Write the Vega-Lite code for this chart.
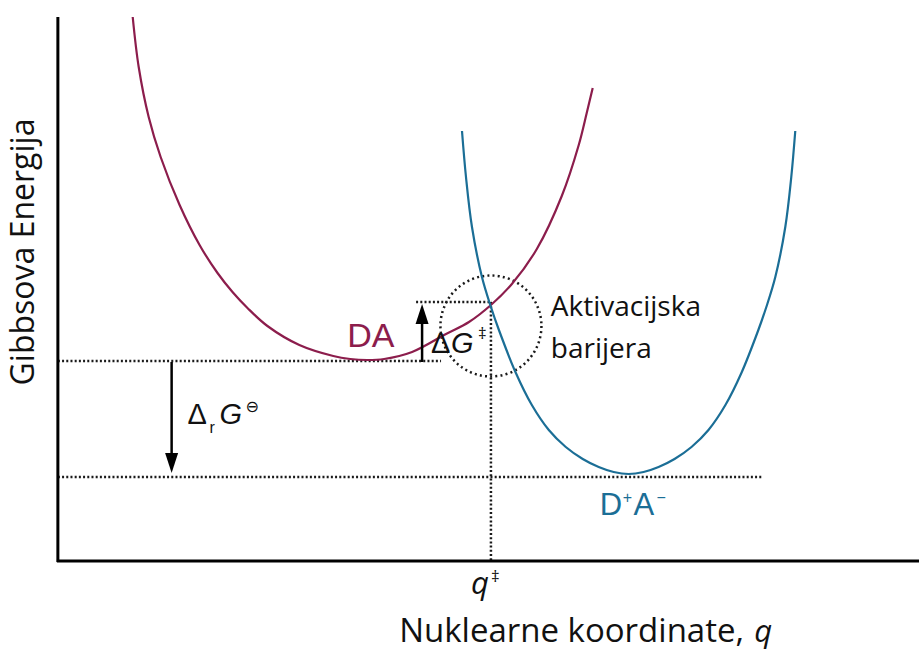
{
  "$schema": "https://vega.github.io/schema/vega-lite/v6.json",
  "width": 921,
  "height": 652,
  "padding": 0,
  "autosize": {"type": "fit", "contains": "padding"},
  "background": "white",
  "config": {"view": {"stroke": null}},
  "datasets": {
    "axes": [
      {"x": 58, "y": 17, "x2": 58, "y2": 562},
      {"x": 57, "y": 561, "x2": 921, "y2": 561}
    ],
    "dotted": [
      {"x": 58, "y": 361, "x2": 442, "y2": 361},
      {"x": 58, "y": 477, "x2": 765, "y2": 477},
      {"x": 417, "y": 302, "x2": 493, "y2": 302},
      {"x": 492, "y": 302, "x2": 492, "y2": 561}
    ],
    "circle": [{"x": 492, "y": 326}],
    "shafts": [
      {"x": 423, "y": 362, "x2": 423, "y2": 318},
      {"x": 172, "y": 362, "x2": 172, "y2": 458}
    ],
    "heads": [
      {"x": 423, "y": 314, "dir": "up"},
      {"x": 172, "y": 463, "dir": "down"}
    ],
    "da": [
      {"x": 133, "y": 17}, {"x": 139, "y": 67}, {"x": 149, "y": 117}, {"x": 161, "y": 157},
      {"x": 180, "y": 205}, {"x": 200, "y": 245}, {"x": 218, "y": 273}, {"x": 233, "y": 292},
      {"x": 248, "y": 308}, {"x": 268, "y": 326}, {"x": 300, "y": 345}, {"x": 334, "y": 356},
      {"x": 351, "y": 359}, {"x": 368, "y": 360}, {"x": 385, "y": 359}, {"x": 413, "y": 352},
      {"x": 447, "y": 334}, {"x": 470, "y": 322}, {"x": 492, "y": 305}, {"x": 513, "y": 284},
      {"x": 538, "y": 249}, {"x": 563, "y": 196}, {"x": 580, "y": 145}, {"x": 588, "y": 113},
      {"x": 594, "y": 88}
    ],
    "dpa": [
      {"x": 463, "y": 131}, {"x": 467, "y": 177}, {"x": 473, "y": 227}, {"x": 483, "y": 277},
      {"x": 492, "y": 307}, {"x": 500, "y": 330}, {"x": 517, "y": 373}, {"x": 533, "y": 405},
      {"x": 550, "y": 430}, {"x": 567, "y": 447}, {"x": 584, "y": 459}, {"x": 600, "y": 467},
      {"x": 615, "y": 472}, {"x": 630, "y": 474}, {"x": 645, "y": 472}, {"x": 660, "y": 467},
      {"x": 676, "y": 459}, {"x": 693, "y": 447}, {"x": 710, "y": 430}, {"x": 727, "y": 405},
      {"x": 743, "y": 373}, {"x": 760, "y": 330}, {"x": 768, "y": 307}, {"x": 777, "y": 277},
      {"x": 787, "y": 227}, {"x": 793, "y": 177}, {"x": 797, "y": 131}
    ]
  },
  "encoding": {
    "x": {"field": "x", "type": "quantitative", "scale": {"domain": [0, 921], "nice": false, "zero": false}, "axis": null},
    "y": {"field": "y", "type": "quantitative", "scale": {"domain": [652, 0], "nice": false, "zero": false}, "axis": null}
  },
  "layer": [
    {
      "data": {"name": "dotted"},
      "mark": {"type": "rule", "color": "#1a1a1a", "strokeWidth": 2.5, "strokeDash": [2, 2.2]},
      "encoding": {"x2": {"field": "x2"}, "y2": {"field": "y2"}}
    },
    {
      "data": {"name": "circle"},
      "mark": {"type": "point", "shape": "circle", "filled": false, "size": 10201, "color": "#1a1a1a", "strokeWidth": 2.5, "strokeDash": [2, 3.2], "opacity": 1}
    },
    {
      "data": {"name": "axes"},
      "mark": {"type": "rule", "color": "#000000", "strokeWidth": 3},
      "encoding": {"x2": {"field": "x2"}, "y2": {"field": "y2"}}
    },
    {
      "data": {"name": "da"},
      "mark": {"type": "line", "color": "#8c1d4c", "strokeWidth": 2.2, "interpolate": "catmull-rom"},
      "encoding": {"order": {"field": "x", "type": "quantitative"}}
    },
    {
      "data": {"name": "dpa"},
      "mark": {"type": "line", "color": "#1b6e96", "strokeWidth": 2.2, "interpolate": "catmull-rom"},
      "encoding": {"order": {"field": "x", "type": "quantitative"}}
    },
    {
      "data": {"name": "shafts"},
      "mark": {"type": "rule", "color": "#000000", "strokeWidth": 2.5},
      "encoding": {"x2": {"field": "x2"}, "y2": {"field": "y2"}}
    },
    {
      "data": {"name": "heads"},
      "mark": {"type": "point", "filled": true, "color": "#000000", "size": 400, "opacity": 1, "strokeWidth": 0},
      "encoding": {
        "shape": {"field": "dir", "type": "nominal", "legend": null,
          "scale": {"domain": ["up", "down"], "range": ["M0,-1L0.65,1L-0.65,1Z", "M0,1L0.65,-1L-0.65,-1Z"]}}
      }
    },
    {
      "data": {"values": [{"x": 24, "y": 252, "t": "Gibbsova Energija"}]},
      "mark": {"type": "text", "font": "Open Sans", "fontSize": 32, "angle": 270, "align": "center", "baseline": "middle", "color": "#111111"},
      "encoding": {"text": {"field": "t"}}
    },
    {
      "data": {"values": [
        {"x": 400, "y": 642, "t": "Nuklearne koordinate,"}
      ]},
      "mark": {"type": "text", "font": "Open Sans", "fontSize": 33, "align": "left", "baseline": "alphabetic", "color": "#111111"},
      "encoding": {"text": {"field": "t"}}
    },
    {
      "data": {"values": [
        {"x": 552, "y": 316, "t": "Aktivacijska"},
        {"x": 552, "y": 358, "t": "barijera"}
      ]},
      "mark": {"type": "text", "font": "Open Sans", "fontSize": 28, "align": "left", "baseline": "alphabetic", "color": "#111111"},
      "encoding": {"text": {"field": "t"}}
    },
    {
      "data": {"values": [
        {"x": 756, "y": 642, "t": "q"},
        {"x": 472, "y": 594, "t": "q"}
      ]},
      "mark": {"type": "text", "font": "Open Sans", "fontSize": 31, "fontStyle": "italic", "align": "left", "baseline": "alphabetic", "color": "#111111"},
      "encoding": {"text": {"field": "t"}}
    },
    {
      "data": {"values": [
        {"x": 492, "y": 582, "t": "‡"},
        {"x": 479, "y": 339, "t": "‡"}
      ]},
      "mark": {"type": "text", "font": "Open Sans", "fontSize": 17, "align": "left", "baseline": "alphabetic", "color": "#111111"},
      "encoding": {"text": {"field": "t"}}
    },
    {
      "data": {"values": [{"x": 348, "y": 347, "t": "DA"}]},
      "mark": {"type": "text", "font": "Liberation Sans", "fontSize": 34, "align": "left", "baseline": "alphabetic", "color": "#8c1d4c"},
      "encoding": {"text": {"field": "t"}}
    },
    {
      "data": {"values": [
        {"x": 601, "y": 515, "t": "D"},
        {"x": 635, "y": 515, "t": "A"}
      ]},
      "mark": {"type": "text", "font": "Liberation Sans", "fontSize": 31, "align": "left", "baseline": "alphabetic", "color": "#1b6e96"},
      "encoding": {"text": {"field": "t"}}
    },
    {
      "data": {"values": [
        {"x": 624, "y": 503, "t": "+"},
        {"x": 658, "y": 503, "t": "−"}
      ]},
      "mark": {"type": "text", "font": "Liberation Sans", "fontSize": 16, "align": "left", "baseline": "alphabetic", "color": "#1b6e96"},
      "encoding": {"text": {"field": "t"}}
    },
    {
      "data": {"values": [
        {"x": 432, "y": 353, "t": "Δ"},
        {"x": 188, "y": 424, "t": "Δ"}
      ]},
      "mark": {"type": "text", "font": "Liberation Sans", "fontSize": 29, "align": "left", "baseline": "alphabetic", "color": "#111111"},
      "encoding": {"text": {"field": "t"}}
    },
    {
      "data": {"values": [
        {"x": 452, "y": 353, "t": "G"},
        {"x": 220, "y": 424, "t": "G"}
      ]},
      "mark": {"type": "text", "font": "Liberation Sans", "fontSize": 29, "fontStyle": "italic", "align": "left", "baseline": "alphabetic", "color": "#111111"},
      "encoding": {"text": {"field": "t"}}
    },
    {
      "data": {"values": [{"x": 210, "y": 433, "t": "r"}]},
      "mark": {"type": "text", "font": "Liberation Sans", "fontSize": 16, "align": "left", "baseline": "alphabetic", "color": "#111111"},
      "encoding": {"text": {"field": "t"}}
    },
    {
      "data": {"values": [{"x": 246, "y": 412, "t": "⊖"}]},
      "mark": {"type": "text", "font": "DejaVu Sans", "fontSize": 16, "align": "left", "baseline": "alphabetic", "color": "#111111"},
      "encoding": {"text": {"field": "t"}}
    }
  ]
}
